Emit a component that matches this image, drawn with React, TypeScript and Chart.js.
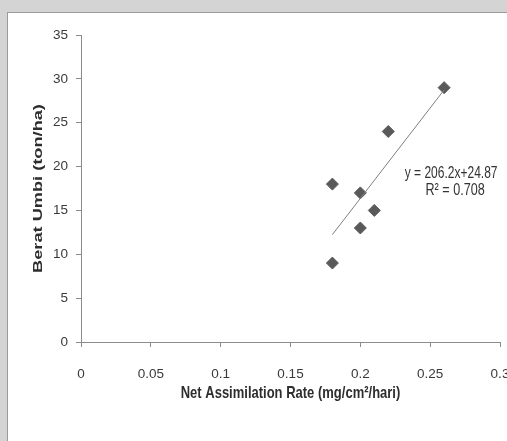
import React, { useEffect, useRef } from "react";
import { Chart, registerables } from "chart.js";

Chart.register(...registerables);

const netAssimilation = [0.18, 0.18, 0.2, 0.2, 0.21, 0.22, 0.26];
const beratUmbi = [18, 9, 17, 13, 15, 24, 29];
const xTicks = [0, 0.05, 0.1, 0.15, 0.2, 0.25, 0.3];
const yTicks = [0, 5, 10, 15, 20, 25, 30, 35];
const trendSlope = 206.2;
const trendIntercept = -24.87;
const equationText = "y = 206.2x+24.87";
const r2Text = "R² = 0.708";
const xTitle = "Net Assimilation Rate (mg/cm²/hari)";
const yTitle = "Berat Umbi (ton/ha)";

const FONT = '"Liberation Sans", Arial, sans-serif';

export default function App() {
  const ref = useRef<HTMLCanvasElement | null>(null);

  useEffect(() => {
    if (!ref.current) return;
    const points = netAssimilation.map((x, i) => ({ x, y: beratUmbi[i] }));
    const xmin = Math.min(...netAssimilation);
    const xmax = Math.max(...netAssimilation);
    const trend = [
      { x: xmin, y: trendSlope * xmin + trendIntercept },
      { x: xmax, y: trendSlope * xmax + trendIntercept },
    ];

    const textPlugin = {
      id: "texts",
      afterDraw(chart: any) {
        const { ctx, chartArea, scales } = chart;
        ctx.save();
        ctx.fillStyle = "#2e2e2e";
        ctx.textAlign = "center";
        ctx.textBaseline = "middle";
        // x title
        ctx.save();
        ctx.translate((chartArea.left + chartArea.right) / 2, 380);
        ctx.scale(1, 1.3);
        ctx.font = `bold 13px ${FONT}`;
        ctx.fillText(xTitle, 0, 0);
        ctx.restore();
        // y title (stretched along its length)
        ctx.save();
        ctx.translate(30, (chartArea.top + chartArea.bottom) / 2);
        ctx.rotate(-Math.PI / 2);
        ctx.scale(1.4, 1);
        ctx.font = `bold 13px ${FONT}`;
        ctx.fillText(yTitle, 0, 0);
        ctx.restore();
        // equation
        const ex = scales.x.getPixelForValue(0.265);
        ctx.fillStyle = "#333333";
        ctx.font = `12px ${FONT}`;
        ctx.save();
        ctx.translate(ex, scales.y.getPixelForValue(19.2));
        ctx.scale(1, 1.45);
        ctx.fillText(equationText, 0, 0);
        ctx.restore();
        ctx.save();
        ctx.translate(ex + 4, scales.y.getPixelForValue(17.3));
        ctx.scale(1.05, 1.45);
        ctx.fillText(r2Text, 0, 0);
        ctx.restore();
        ctx.restore();
      },
    };

    const chart = new Chart(ref.current, {
      type: "scatter",
      data: {
        datasets: [
          {
            type: "line",
            data: trend,
            borderColor: "#7f7f7f",
            borderWidth: 1,
            pointRadius: 0,
            fill: false,
          } as any,
          {
            data: points,
            pointStyle: "rectRot",
            pointRadius: 6,
            pointBackgroundColor: "#595959",
            pointBorderColor: "#595959",
            pointBorderWidth: 1,
          },
        ],
      },
      options: {
        animation: false,
        responsive: false,
        maintainAspectRatio: false,
        layout: { padding: { left: 0, top: 22, right: 48, bottom: 0 } },
        plugins: {
          legend: { display: false },
          tooltip: { enabled: false },
        },
        scales: {
          x: {
            type: "linear",
            min: 0,
            max: 0.3,
            afterBuildTicks: (s: any) => {
              s.ticks = xTicks.map((v) => ({ value: v }));
            },
            afterFit: (s: any) => {
              s.height = 99;
            },
            ticks: {
              padding: 19,
              color: "#3a3a3a",
              font: { family: FONT, size: 13.5 },
              maxRotation: 0,
              callback: (v: any) => String(v),
            },
            grid: {
              drawOnChartArea: false,
              drawTicks: true,
              tickLength: 5,
              color: "#8c8c8c",
            },
            border: { display: true, color: "#8c8c8c" },
          },
          y: {
            type: "linear",
            min: 0,
            max: 35,
            afterBuildTicks: (s: any) => {
              s.ticks = yTicks.map((v) => ({ value: v }));
            },
            afterFit: (s: any) => {
              s.width = 73;
            },
            ticks: {
              padding: 8,
              color: "#3a3a3a",
              font: { family: FONT, size: 13.5 },
              callback: (v: any) => String(v),
            },
            grid: {
              drawOnChartArea: false,
              drawTicks: true,
              tickLength: 5,
              color: "#8c8c8c",
            },
            border: { display: true, color: "#8c8c8c" },
          },
        },
      },
      plugins: [textPlugin],
    });
    return () => chart.destroy();
  }, []);

  return (
    <div
      style={{
        position: "absolute",
        left: 0,
        top: 0,
        width: 507,
        height: 441,
        overflow: "hidden",
        background: "#d4d4d4",
      }}
    >
      <div
        style={{
          position: "absolute",
          left: 7,
          top: 12,
          width: 600,
          height: 500,
          border: "1px solid #9a9a9a",
          background: "#ffffff",
        }}
      >
        <canvas
          ref={ref}
          width={540}
          height={428}
          style={{ position: "absolute", left: 0, top: 0, width: 540, height: 428 }}
        />
      </div>
    </div>
  );
}
